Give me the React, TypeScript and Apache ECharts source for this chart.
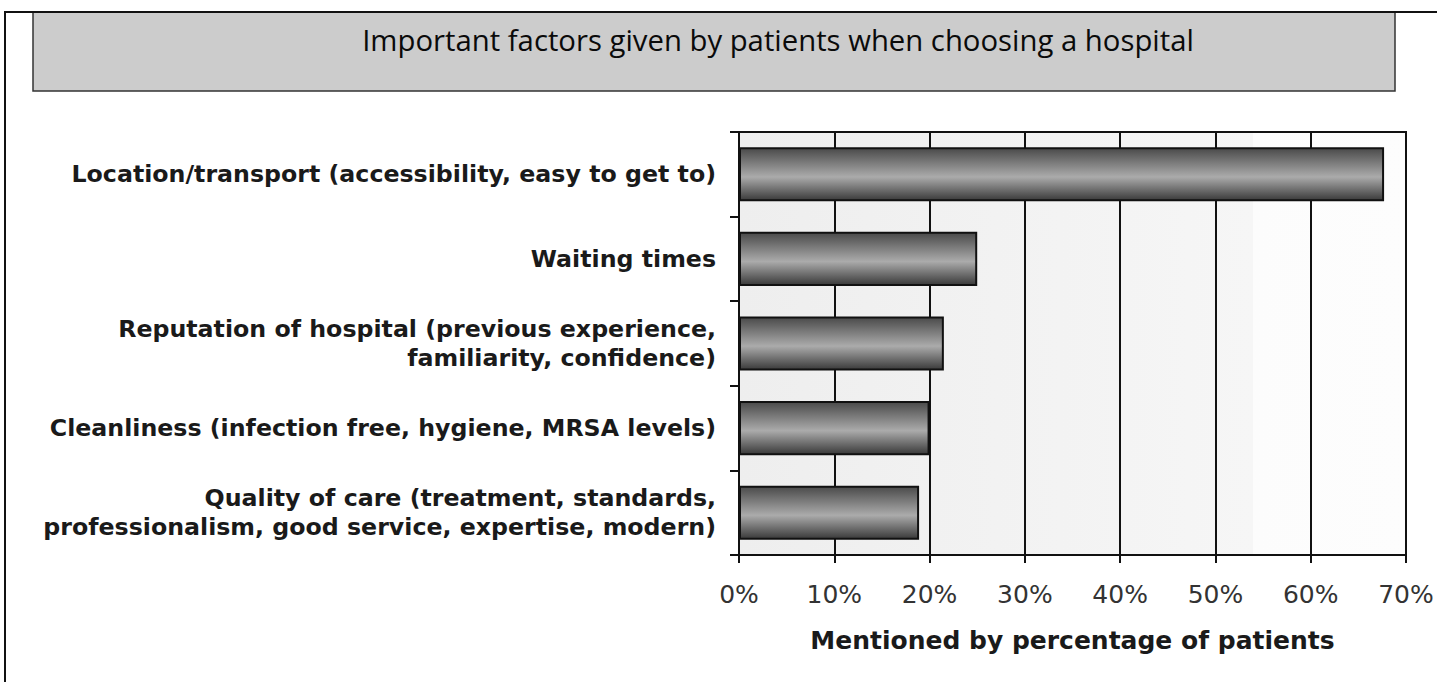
import React, { useEffect, useRef } from "react";
import * as echarts from "echarts";

const titleText = "Important factors given by patients when choosing a hospital";
const categories = [
  "Location/transport (accessibility, easy to get to)",
  "Waiting times",
  "Reputation of hospital (previous experience,\nfamiliarity, confidence)",
  "Cleanliness (infection free, hygiene, MRSA levels)",
  "Quality of care (treatment, standards,\nprofessionalism, good service, expertise, modern)",
];
const values = [67.7, 25.0, 21.5, 20.0, 18.9];
const axisName = "Mentioned by percentage of patients";

export default function App() {
  const ref = useRef<HTMLDivElement>(null);
  useEffect(() => {
    if (!ref.current) return;
    const chart = echarts.init(ref.current, undefined, { renderer: "svg" });
    chart.setOption({
      animation: false,
      backgroundColor: "#ffffff",
      graphic: [
        {
          type: "polyline",
          shape: { points: [[5, 682], [5, 12], [1437, 12]] },
          style: { stroke: "#111", lineWidth: 2, fill: "none" },
          z: 10,
        },
        {
          type: "rect",
          shape: { x: 33, y: 12, width: 1362, height: 79 },
          style: { fill: "#cccccc", stroke: "#333", lineWidth: 1.5 },
          z: 9,
        },
        {
          type: "text",
          x: 778,
          y: 40,
          style: {
            text: titleText,
            fill: "#0a0a0a",
            font: "29.3px 'Open Sans', sans-serif",
            textAlign: "center",
            textVerticalAlign: "middle",
          },
          z: 11,
        },
      ],
      grid: {
        left: 739,
        right: 31,
        top: 132,
        bottom: 127,
        show: true,
        borderColor: "#111",
        borderWidth: 2,
        backgroundColor: {
          type: "linear",
          x: 0,
          y: 0,
          x2: 1,
          y2: 0,
          colorStops: [
            { offset: 0, color: "#eeeeee" },
            { offset: 0.77, color: "#f6f6f6" },
            { offset: 0.771, color: "#fcfcfc" },
            { offset: 1, color: "#fdfdfd" },
          ],
        },
      },
      xAxis: {
        type: "value",
        min: 0,
        max: 70,
        interval: 10,
        name: axisName,
        nameLocation: "middle",
        nameGap: 73,
        nameTextStyle: {
          fontFamily: "'DejaVu Sans', sans-serif",
          fontWeight: "bold",
          fontSize: 25,
          color: "#1a1a1a",
        },
        axisLine: { show: true, lineStyle: { color: "#111", width: 2 } },
        axisTick: { show: true, length: 8, lineStyle: { color: "#111", width: 2 } },
        splitLine: { show: true, lineStyle: { color: "#111", width: 2 } },
        axisLabel: {
          formatter: "{value}%",
          margin: 27,
          fontFamily: "'DejaVu Sans', sans-serif",
          fontSize: 25,
          color: "#333",
        },
      },
      yAxis: {
        type: "category",
        data: categories,
        inverse: true,
        axisLine: { show: true, lineStyle: { color: "#111", width: 2 } },
        axisTick: { show: true, length: 9, lineStyle: { color: "#111", width: 2 } },
        axisLabel: {
          margin: 23,
          fontFamily: "'DejaVu Sans', sans-serif",
          fontWeight: "bold",
          fontSize: 23.7,
          lineHeight: 29,
          color: "#1a1a1a",
          align: "right",
        },
      },
      series: [
        {
          type: "bar",
          data: values,
          barCategoryGap: "36%",
          itemStyle: {
            borderColor: "#111",
            borderWidth: 2,
            color: {
              type: "linear",
              x: 0,
              y: 0,
              x2: 0,
              y2: 1,
              colorStops: [
                { offset: 0, color: "#4a4a4a" },
                { offset: 0.55, color: "#ababab" },
                { offset: 1, color: "#3a3a3a" },
              ],
            },
          },
        },
      ],
    });
    return () => chart.dispose();
  }, []);
  return (
    <div
      ref={ref}
      style={{ position: "absolute", left: 0, top: 0, width: 1437, height: 682 }}
    />
  );
}
